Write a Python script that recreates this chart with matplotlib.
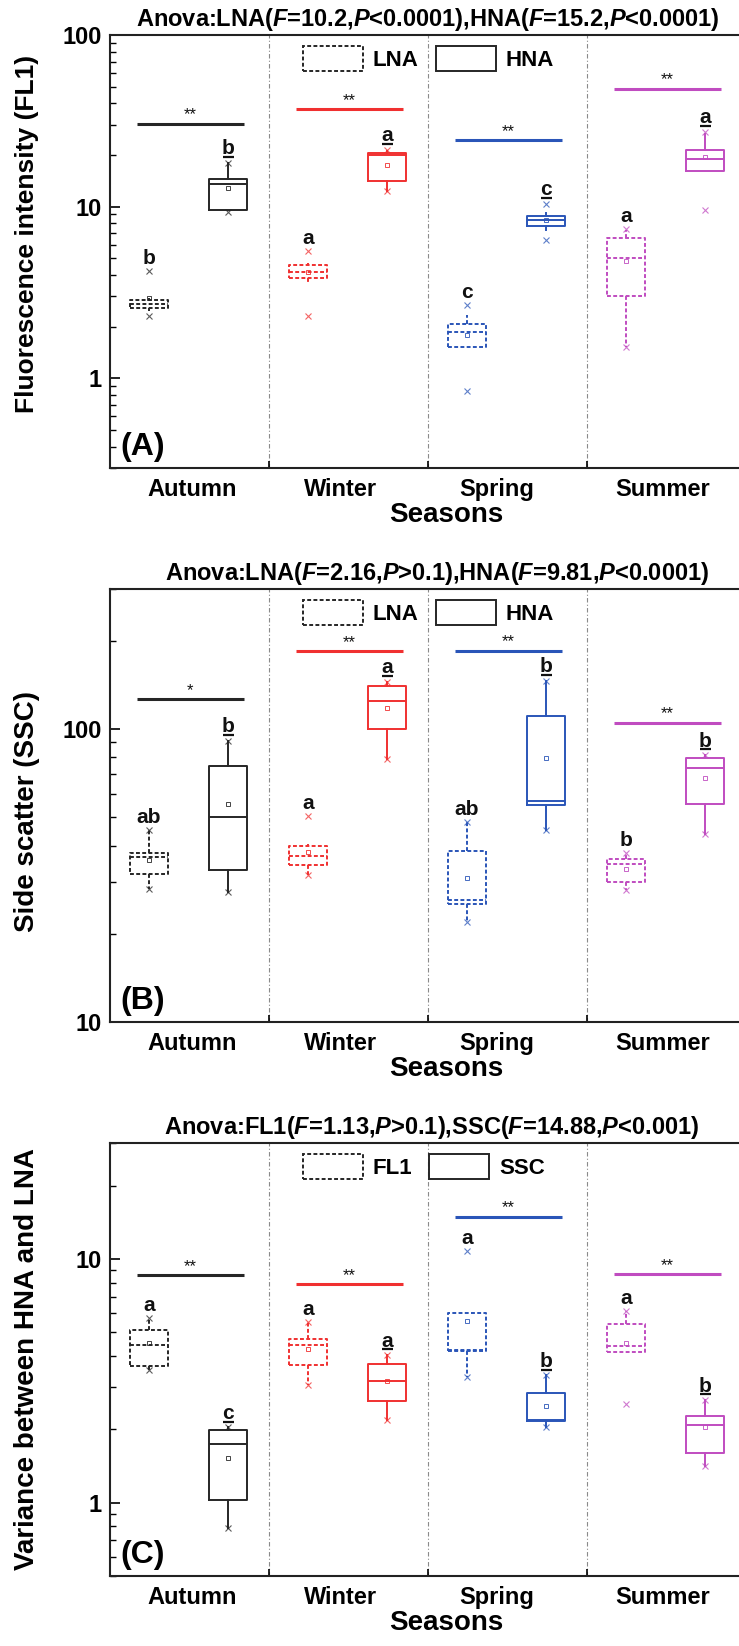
import matplotlib
matplotlib.use('Agg')
import matplotlib.pyplot as plt
from matplotlib.patches import Patch
from matplotlib.ticker import LogLocator, FuncFormatter, NullFormatter
from matplotlib.transforms import offset_copy

# --- fonts ---
plt.rcParams['font.family'] = ['Liberation Sans', 'DejaVu Sans']
plt.rcParams['font.weight'] = 'bold'
plt.rcParams['mathtext.fontset'] = 'custom'
plt.rcParams['mathtext.rm'] = 'Liberation Sans:bold'
plt.rcParams['mathtext.it'] = 'Liberation Sans:italic:bold'
plt.rcParams['mathtext.bf'] = 'Liberation Sans:bold'

# 1. data
# ==========================================================
seasons = ['Autumn', 'Winter', 'Spring', 'Summer']
season_colors = ['#262626', '#f03030', '#2a55b8', '#c04cc0']

# (A) FL1, LNA / HNA
a_lna_q1 = [2.56, 3.86, 1.52, 3.03]
a_lna_med = [2.70, 4.17, 1.86, 5.0]
a_lna_q3 = [2.86, 4.6, 2.07, 6.6]
a_lna_lo = [2.45, 3.6, 1.52, 1.53]
a_lna_hi = [2.95, 4.7, 2.34, 7.3]
a_lna_mean = [2.95, 4.17, 1.79, 4.8]
a_lna_min = [2.32, 2.31, 0.84, 1.53]
a_lna_max = [4.24, 5.55, 2.66, 7.4]

a_hna_q1 = [9.5, 14.1, 7.71, 16.2]
a_hna_med = [13.5, 20.0, 8.36, 19.0]
a_hna_q3 = [14.5, 20.5, 8.83, 21.4]
a_hna_lo = [9.5, 12.4, 7.3, 16.2]
a_hna_hi = [18.0, 21.2, 9.13, 26.4]
a_hna_mean = [12.9, 17.5, 8.36, 19.5]
a_hna_min = [9.3, 12.4, 6.4, 9.5]
a_hna_max = [18.0, 21.5, 10.4, 27.3]

a_sig = [30.3, 36.9, 24.4, 48.5]
a_stars = ['**', '**', '**', '**']
a_let_lna = ['b', 'a', 'c', 'a']
a_let_hna = ['b', 'a', 'c', 'a']

# (B) SSC, LNA / HNA
b_lna_q1 = [32.1, 34.3, 25.3, 30.1]
b_lna_med = [36.6, 36.8, 26.0, 34.5]
b_lna_q3 = [37.6, 39.9, 38.4, 36.1]
b_lna_lo = [28.5, 31.7, 21.9, 28.1]
b_lna_hi = [45.2, 40.5, 48.2, 37.6]
b_lna_mean = [35.7, 38.1, 30.9, 33.2]
b_lna_min = [28.5, 31.7, 21.9, 28.1]
b_lna_max = [45.2, 50.4, 48.2, 37.6]

b_hna_q1 = [32.9, 100, 55.0, 55.4]
b_hna_med = [50.2, 124, 56.9, 73.6]
b_hna_q3 = [74.7, 140, 111, 79.4]
b_hna_lo = [27.8, 79, 45.2, 43.8]
b_hna_hi = [91.2, 145, 146, 81.5]
b_hna_mean = [55.3, 118, 79.8, 67.8]
b_hna_min = [27.8, 79, 45.2, 43.8]
b_hna_max = [91.2, 145, 146, 81.5]

b_sig = [126, 184, 185, 105]
b_stars = ['*', '**', '**', '**']
b_let_lna = ['ab', 'a', 'ab', 'b']
b_let_hna = ['b', 'a', 'b', 'b']

# (C) HNA/LNA ratio, FL1 / SSC
c_fl1_q1 = [3.64, 3.67, 4.2, 4.16]
c_fl1_med = [4.43, 4.43, 4.23, 4.39]
c_fl1_q3 = [5.11, 4.69, 6.0, 5.42]
c_fl1_lo = [3.51, 3.05, 3.27, 4.16]
c_fl1_hi = [5.76, 5.53, 6.0, 6.14]
c_fl1_mean = [4.51, 4.28, 5.57, 4.51]
c_fl1_min = [3.51, 3.05, 3.27, 2.55]
c_fl1_max = [5.76, 5.53, 10.8, 6.14]

c_ssc_q1 = [1.03, 2.61, 2.16, 1.6]
c_ssc_med = [1.75, 3.17, 2.18, 2.09]
c_ssc_q3 = [1.99, 3.71, 2.82, 2.28]
c_ssc_lo = [0.79, 2.19, 2.05, 1.41]
c_ssc_hi = [2.04, 4.04, 3.33, 2.64]
c_ssc_mean = [1.53, 3.17, 2.49, 2.05]
c_ssc_min = [0.79, 2.19, 2.05, 1.41]
c_ssc_max = [2.04, 4.04, 3.33, 2.64]

c_sig = [8.6, 7.9, 14.9, 8.66]
c_stars = ['**', '**', '**', '**']
c_let_fl1 = ['a', 'a', 'a', 'a']
c_let_ssc = ['c', 'a', 'b', 'b']


def make_stats(q1, med, q3, lo, hi, mean):
    return [dict(q1=q1[i], med=med[i], q3=q3[i], whislo=lo[i], whishi=hi[i],
                 mean=mean[i], fliers=[]) for i in range(len(q1))]


panels = [
    dict(tag='(A)', ylim=(0.3, 100), ylabel='Fluorescence intensity (FL1)', ylabel_y=0.54, ylabel_fs=19,
         title=r'Anova:LNA($\mathit{F}$=10.2,$\mathit{P}$<0.0001),HNA($\mathit{F}$=15.2,$\mathit{P}$<0.0001)',
         title_x=0.5, names=['LNA', 'HNA'],
         lo=make_stats(a_lna_q1, a_lna_med, a_lna_q3, a_lna_lo, a_lna_hi, a_lna_mean),
         hi=make_stats(a_hna_q1, a_hna_med, a_hna_q3, a_hna_lo, a_hna_hi, a_hna_mean),
         lo_ext=(a_lna_min, a_lna_max), hi_ext=(a_hna_min, a_hna_max),
         sig=a_sig, stars=a_stars, let_lo=a_let_lna, let_hi=a_let_hna),
    dict(tag='(B)', ylim=(10, 300), ylabel='Side scatter (SSC)', ylabel_y=0.485, ylabel_fs=20,
         title=r'Anova:LNA($\mathit{F}$=2.16,$\mathit{P}$>0.1),HNA($\mathit{F}$=9.81,$\mathit{P}$<0.0001)',
         title_x=0.515, names=['LNA', 'HNA'],
         lo=make_stats(b_lna_q1, b_lna_med, b_lna_q3, b_lna_lo, b_lna_hi, b_lna_mean),
         hi=make_stats(b_hna_q1, b_hna_med, b_hna_q3, b_hna_lo, b_hna_hi, b_hna_mean),
         lo_ext=(b_lna_min, b_lna_max), hi_ext=(b_hna_min, b_hna_max),
         sig=b_sig, stars=b_stars, let_lo=b_let_lna, let_hi=b_let_hna),
    dict(tag='(C)', ylim=(0.5, 30), ylabel='Variance between HNA and LNA', ylabel_y=0.5, ylabel_fs=20,
         title=r'Anova:FL1($\mathit{F}$=1.13,$\mathit{P}$>0.1),SSC($\mathit{F}$=14.88,$\mathit{P}$<0.001)',
         title_x=0.505, names=['FL1', 'SSC'],
         lo=make_stats(c_fl1_q1, c_fl1_med, c_fl1_q3, c_fl1_lo, c_fl1_hi, c_fl1_mean),
         hi=make_stats(c_ssc_q1, c_ssc_med, c_ssc_q3, c_ssc_lo, c_ssc_hi, c_ssc_mean),
         lo_ext=(c_fl1_min, c_fl1_max), hi_ext=(c_ssc_min, c_ssc_max),
         sig=c_sig, stars=c_stars, let_lo=c_let_fl1, let_hi=c_let_ssc),
]

# 2. figure
# ==========================================================
W, H = 739, 1646
fig = plt.figure(figsize=(W / 100, H / 100), dpi=100)

ax_left, ax_w, ax_h = 110, 636, 433
ax_bottoms = [468, 1022, 1576]
tick_pos = [0.516, 1.447, 2.434, 3.478]
dashed = (0, (2, 1.2))


def draw_box(ax, x, st, color, ls):
    kw = dict(color=color, lw=1.4, linestyle=ls)
    ax.bxp([st], positions=[x], widths=0.24, showmeans=True, showcaps=False,
           showfliers=False, manage_ticks=False,
           boxprops=kw, whiskerprops=kw, medianprops=kw,
           meanprops=dict(marker='s', markersize=3.5, markerfacecolor='none',
                          markeredgecolor=color, markeredgewidth=0.6))


def put_letter(ax, x, top, letter, underline):
    if underline:
        tr_l = offset_copy(ax.transData, fig=fig, x=0, y=4, units='points')
        ax.plot([x - 0.035, x + 0.035], [top, top], transform=tr_l,
                color='#111111', lw=1.6, solid_capstyle='butt')
        tr = offset_copy(ax.transData, fig=fig, x=0, y=6, units='points')
    else:
        tr = offset_copy(ax.transData, fig=fig, x=0, y=5, units='points')
    ax.text(x, top, letter, transform=tr, ha='center', va='baseline',
            fontsize=15, weight='bold', color='#111111')


for p, yb in zip(panels, ax_bottoms):
    ax = fig.add_axes([ax_left / W, 1 - yb / H, ax_w / W, ax_h / H])
    ax.set_yscale('log')
    ax.set_xlim(0, 4)
    ax.set_ylim(*p['ylim'])

    # season separators
    for xd in [1, 2, 3]:
        ax.axvline(xd, color='#8a8a8a', lw=0.8, linestyle=(0, (4, 2, 1, 2)), zorder=0)

    for i in range(4):
        c = season_colors[i]
        x_lo, x_hi = i + 0.245, i + 0.743
        draw_box(ax, x_lo, p['lo'][i], c, dashed)
        draw_box(ax, x_hi, p['hi'][i], c, '-')
        ax.plot([x_lo, x_lo], [p['lo_ext'][0][i], p['lo_ext'][1][i]], ls='none',
                marker='x', ms=4, mew=0.8, color=c, alpha=0.75)
        ax.plot([x_hi, x_hi], [p['hi_ext'][0][i], p['hi_ext'][1][i]], ls='none',
                marker='x', ms=4, mew=0.8, color=c, alpha=0.75)

        # significance bar
        ax.plot([i + 0.17, i + 0.84], [p['sig'][i], p['sig'][i]], color=c, lw=2.2,
                solid_capstyle='butt')
        tr_s = offset_copy(ax.transData, fig=fig, x=0, y=1, units='points')
        ax.text(i + 0.505, p['sig'][i], p['stars'][i], transform=tr_s, ha='center',
                va='bottom', fontsize=12, weight='normal', color='#111111')

        # group letters
        put_letter(ax, x_lo, max(p['lo'][i]['whishi'], p['lo_ext'][1][i]), p['let_lo'][i], False)
        put_letter(ax, x_hi, max(p['hi'][i]['whishi'], p['hi_ext'][1][i]), p['let_hi'][i], True)

    # axes styling
    for s in ['left', 'bottom', 'top']:
        ax.spines[s].set_linewidth(1.5)
        ax.spines[s].set_color('#222222')
    ax.spines['right'].set_visible(False)

    ax.yaxis.set_major_locator(LogLocator(base=10))
    ax.yaxis.set_minor_locator(LogLocator(base=10, subs=[2, 3, 4, 5, 6, 7, 8, 9]))
    ax.yaxis.set_major_formatter(FuncFormatter(lambda v, pos: '%g' % v))
    ax.yaxis.set_minor_formatter(NullFormatter())
    ax.tick_params(axis='y', which='major', direction='in', length=7, width=1.2,
                   labelsize=17, pad=6, right=False)
    ax.tick_params(axis='y', which='minor', direction='in', length=4, width=1, right=False)

    ax.set_xticks(tick_pos)
    ax.set_xticklabels(seasons)
    ax.set_xticks([1, 2, 3], minor=True)
    ax.tick_params(axis='x', which='major', length=0, labelsize=17, pad=7)
    ax.tick_params(axis='x', which='minor', direction='in', length=5, width=1.2, top=False)

    ax.text(p['title_x'], 1 + 9 / ax_h, p['title'], transform=ax.transAxes,
            ha='center', va='baseline', fontsize=17, weight='bold')
    ax.text(-83 / ax_w, p['ylabel_y'], p['ylabel'], transform=ax.transAxes, rotation=90,
            ha='center', va='center', fontsize=p['ylabel_fs'], weight='bold')
    ax.text(0.528, -47 / ax_h, 'Seasons', transform=ax.transAxes, ha='center',
            va='center', fontsize=20, weight='bold')
    ax.text(10 / ax_w, 21 / ax_h, p['tag'], transform=ax.transAxes, ha='left',
            va='center', fontsize=23, weight='bold')

    handles = [Patch(facecolor='none', edgecolor='#262626', linestyle=dashed, lw=1.4),
               Patch(facecolor='none', edgecolor='#262626', linestyle='-', lw=1.4)]
    ax.legend(handles, p['names'], ncol=2, loc='upper left', bbox_to_anchor=(0.303, 0.975),
              frameon=False, handlelength=2.7, handleheight=1.4, handletextpad=0.45,
              columnspacing=0.77, borderpad=0, borderaxespad=0,
              prop=dict(weight='bold', size=16))

plt.savefig('out.png', dpi=100)
